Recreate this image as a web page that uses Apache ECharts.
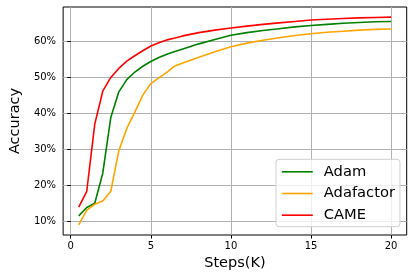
<!DOCTYPE html>
<html>
<head>
<meta charset="utf-8">
<script src="https://cdn.jsdelivr.net/npm/echarts@6/dist/echarts.min.js"></script>
<style>html,body{margin:0;padding:0;background:#fff}#c{width:415px;height:279px}</style>
</head>
<body>
<div id="c"></div>
<script>
var steps = [0.5,1,1.5,2,2.5,3,3.5,4,4.5,5,5.5,6,6.5,7,8,9,10,11,12,13,14,15,16,17,18,19,20];
var adam =      [11.6,13.9,15.1,23.4,38.8,45.9,49.3,51.4,53.0,54.3,55.4,56.3,57.1,57.8,59.2,60.4,61.6,62.3,62.9,63.4,63.9,64.3,64.6,64.9,65.1,65.3,65.4];
var adafactor = [9.1,13.2,14.8,15.7,18.4,29.6,35.8,40.3,45.0,48.2,49.8,51.3,53.1,53.9,55.5,57.0,58.4,59.4,60.2,60.9,61.5,62.0,62.4,62.7,63.0,63.2,63.3];
var came =      [14.0,18.4,37.0,46.1,49.9,52.4,54.4,55.9,57.3,58.6,59.5,60.3,60.8,61.4,62.3,63.0,63.6,64.1,64.6,65.0,65.4,65.8,66.0,66.2,66.4,66.5,66.6];
var xTicks = [0,5,10,15,20];
var yTicks = [10,20,30,40,50,60];

function pairs(ys){ return steps.map(function(x,i){ return [x, ys[i]]; }); }

var font = 'DejaVu Sans';
var chart = echarts.init(document.getElementById('c'), null, {renderer:'canvas'});
chart.setOption({
  animation:false,
  backgroundColor:'#fff',
  grid:{left:56, top:7, right:8.3, bottom:44, show:true, borderColor:'#000', borderWidth:1, backgroundColor:'transparent'},
  xAxis:{
    type:'value', min:-0.475, max:20.975,
    name:'Steps(K)', nameLocation:'middle', nameGap:20,
    nameTextStyle:{fontFamily:font, fontSize:14.5, color:'#000'},
    axisLine:{show:false},
    axisTick:{show:true, inside:false, length:3.5, customValues:xTicks, lineStyle:{color:'#000', width:1}},
    axisLabel:{customValues:xTicks, fontFamily:font, fontSize:10, color:'#000', margin:6},
    splitLine:{show:true, lineStyle:{color:'#b0b0b0', width:1}}
  },
  yAxis:{
    type:'value', min:6.3, max:69.4,
    name:'Accuracy', nameLocation:'middle', nameGap:37, nameRotate:90,
    nameTextStyle:{fontFamily:font, fontSize:14.5, color:'#000'},
    axisLine:{show:false},
    axisTick:{show:true, inside:false, length:3.5, customValues:yTicks, lineStyle:{color:'#000', width:1}},
    axisLabel:{customValues:yTicks, fontFamily:font, fontSize:10, color:'#000', margin:7, formatter:'{value}%'},
    splitLine:{show:true, lineStyle:{color:'#b0b0b0', width:1}}
  },
  legend:{
    orient:'vertical', left:276, top:159.3,
    padding:[5,5,4,5], itemGap:6.7, itemWidth:31, itemHeight:14,
    borderColor:'#d0d0d0', borderWidth:1, borderRadius:3,
    backgroundColor:'rgba(255,255,255,0.8)',
    itemStyle:{opacity:0},
    lineStyle:{width:1.6},
    textStyle:{fontFamily:font, fontSize:14.7, color:'#000', padding:[0,0,0,6]},
    data:['Adam','Adafactor','CAME']
  },
  series:[
    {name:'Adam', type:'line', data:pairs(adam), symbol:'none', color:'#008000', lineStyle:{width:1.6, color:'#008000'}, z:3},
    {name:'Adafactor', type:'line', data:pairs(adafactor), symbol:'none', color:'#FFA500', lineStyle:{width:1.6, color:'#FFA500'}, z:3},
    {name:'CAME', type:'line', data:pairs(came), symbol:'none', color:'#FF0000', lineStyle:{width:1.6, color:'#FF0000'}, z:3}
  ]
});
</script>
</body>
</html>
